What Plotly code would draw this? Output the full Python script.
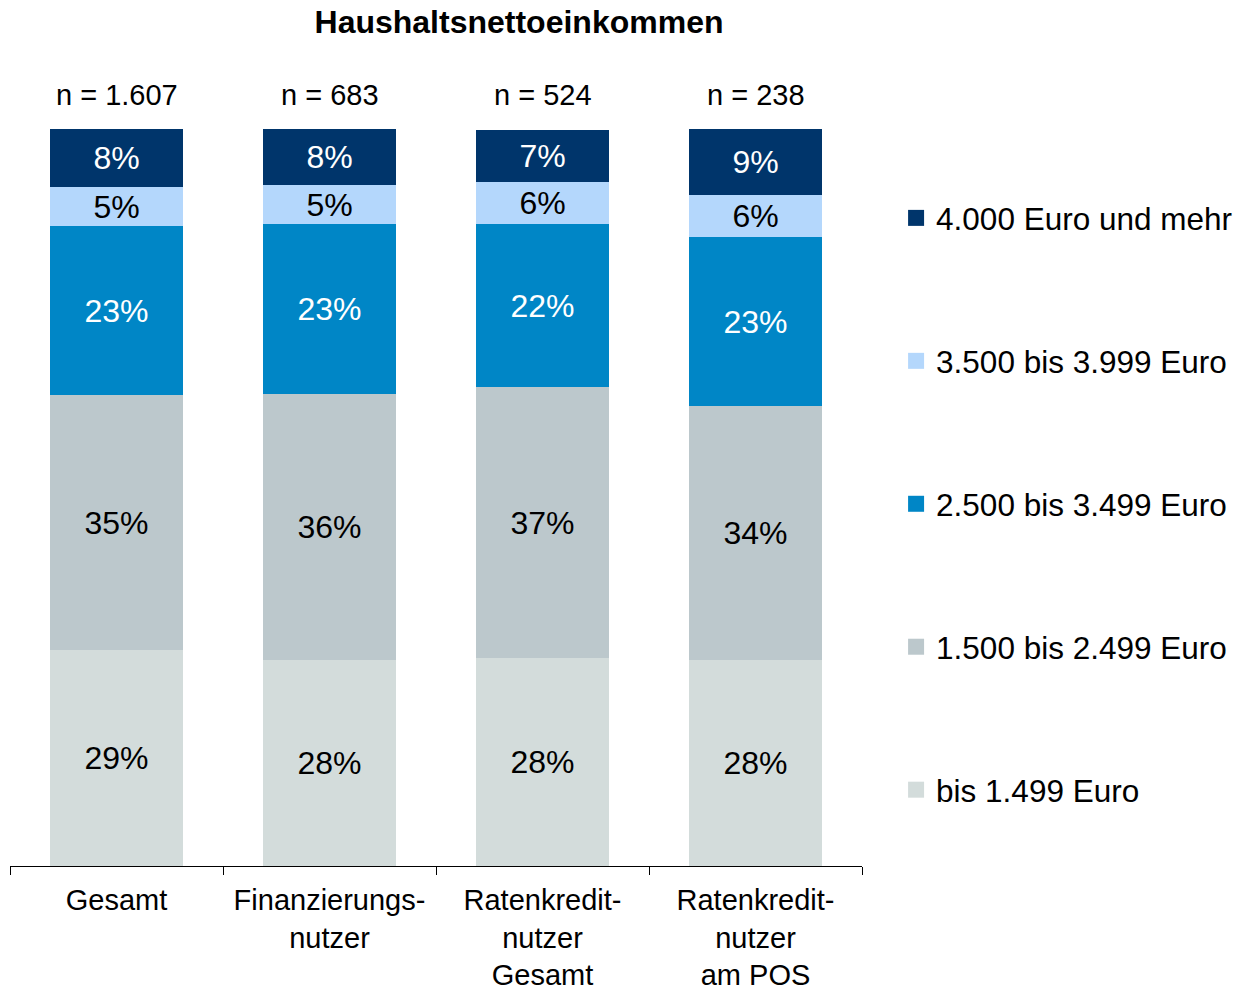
import plotly.graph_objects as go

categories = ["Gesamt", "Finanzierungs-<br>nutzer", "Ratenkredit-<br>nutzer<br>Gesamt", "Ratenkredit-<br>nutzer<br>am POS"]
n_labels = ["n = 1.607", "n = 683", "n = 524", "n = 238"]

series_names = ["bis 1.499 Euro", "1.500 bis 2.499 Euro", "2.500 bis 3.499 Euro",
                "3.500 bis 3.999 Euro", "4.000 Euro und mehr"]
bis_1499 = [29.3, 28.0, 28.2, 28.0]
v1500_2499 = [34.6, 36.0, 36.8, 34.4]
v2500_3499 = [22.9, 23.1, 22.1, 22.9]
v3500_3999 = [5.3, 5.3, 5.7, 5.7]
v4000_plus = [8.0, 7.6, 7.1, 9.0]

series_values = [bis_1499, v1500_2499, v2500_3499, v3500_3999, v4000_plus]
colors = ["#D3DCDB", "#BCC8CC", "#0086C6", "#B4D7FC", "#00356B"]
text_colors = ["#000000", "#000000", "#FFFFFF", "#000000", "#FFFFFF"]

FONT = "Liberation Sans, Arial, sans-serif"

fig = go.Figure()
for name, vals, col, tcol in zip(series_names, series_values, colors, text_colors):
    fig.add_trace(go.Bar(
        x=categories, y=vals, name=name, legendgroup=name, showlegend=False,
        marker=dict(color=col, line=dict(width=0)),
        texttemplate="%{y:.0f}%", textposition="inside",
        insidetextanchor="middle",
        textfont=dict(family=FONT, size=32, color=tcol),
        hoverinfo="skip",
    ))

# legend entries (square markers), top item = highest income class
for name, col in reversed(list(zip(series_names, colors))):
    fig.add_trace(go.Scatter(
        x=[None], y=[None], mode="markers", name=name, legendgroup=name,
        marker=dict(symbol="square", size=16, color=col),
        showlegend=True, hoverinfo="skip",
    ))

for cat, nl in zip(categories, n_labels):
    fig.add_annotation(x=cat, y=1, xref="x", yref="paper", text=nl,
                       showarrow=False, yanchor="bottom", yshift=16,
                       font=dict(family=FONT, size=29, color="#000000"))

fig.update_layout(
    width=1238, height=990,
    margin=dict(l=10, r=376, t=129, b=124, autoexpand=False),
    paper_bgcolor="white", plot_bgcolor="white",
    barmode="stack", bargap=0.375,
    uniformtext=dict(minsize=32, mode="show"),
    title=dict(text="<b>Haushaltsnettoeinkommen</b>", x=519/1238, xanchor="center",
               y=1 - 22/990, yanchor="middle",
               font=dict(family=FONT, size=32, color="#000000")),
    legend=dict(x=1.040, xanchor="left", y=0.916, yanchor="top",
                traceorder="grouped", tracegroupgap=99,
                itemsizing="trace",
                font=dict(family=FONT, size=31.5, color="#000000"),
                bgcolor="rgba(0,0,0,0)"),
    showlegend=True,
)
fig.update_xaxes(type="category", range=[-0.5, 3.5], showline=True, linecolor="#000000",
                 linewidth=1, ticks="outside", tickson="boundaries", ticklen=8,
                 tickcolor="#000000", showgrid=False, ticklabelstandoff=8,
                 tickangle=0,
                 tickfont=dict(family=FONT, size=29, color="#000000"))
fig.update_yaxes(range=[0, 100], visible=False, showgrid=False)

fig.write_html("out.html", config={"displayModeBar": False},
               post_script="document.body.style.margin='0';document.body.style.overflow='hidden';")
